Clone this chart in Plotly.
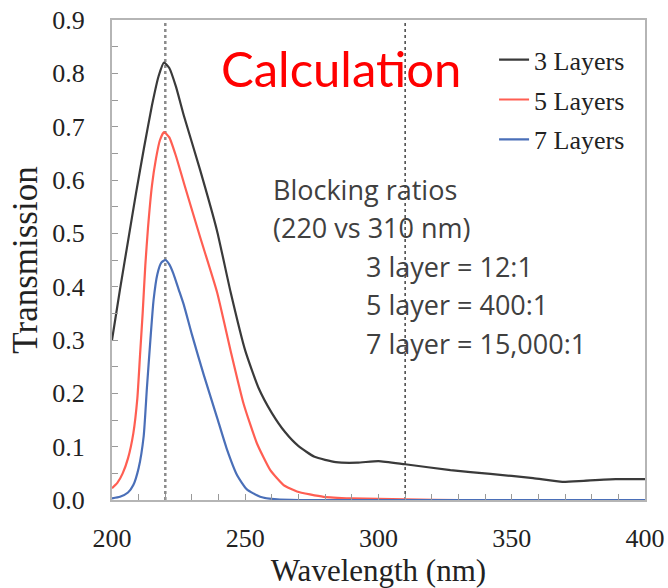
import plotly.graph_objects as go

# ---- data ----
wl_3 = [200, 203, 206, 209, 212, 215, 217.5, 219.5, 221.5, 224, 227, 233, 239.4, 244.5, 250,
        255, 260, 265, 270, 276, 284, 292, 300, 310, 327, 342, 358, 369, 377, 389, 400]
t_3 = [0.30, 0.395, 0.485, 0.575, 0.66, 0.74, 0.795, 0.82, 0.81, 0.775, 0.72, 0.62, 0.505,
       0.39, 0.28, 0.21, 0.163, 0.127, 0.101, 0.081, 0.071, 0.07, 0.073, 0.067, 0.056, 0.049,
       0.041, 0.034, 0.036, 0.039, 0.039]

wl_5 = [200, 202, 204, 206, 208, 209.5, 210.5, 211.5, 212.5, 213.5, 215, 216.5, 218, 219.5,
        221.5, 224, 227, 233, 239.4, 244.5, 249.4, 254.4, 259.4, 264.4, 269.4, 279.4, 290, 300,
        310, 330, 400]
t_5 = [0.022, 0.032, 0.05, 0.078, 0.125, 0.19, 0.27, 0.35, 0.44, 0.51, 0.59, 0.64, 0.675, 0.69,
       0.68, 0.645, 0.594, 0.494, 0.39, 0.28, 0.18, 0.106, 0.056, 0.028, 0.016, 0.006, 0.003,
       0.002, 0.001, 0.0, 0.0]

wl_7 = [200, 203, 206, 208, 210, 211.9, 213.1, 214.4, 215.6, 217, 218.5, 220, 221.5, 223, 225,
        227, 230, 234.4, 239.4, 243, 247, 250.6, 255.6, 262, 270, 400]
t_7 = [0.003, 0.006, 0.014, 0.028, 0.06, 0.12, 0.21, 0.30, 0.375, 0.423, 0.445, 0.45, 0.442,
       0.425, 0.395, 0.365, 0.31, 0.235, 0.155, 0.097, 0.046, 0.02, 0.006, 0.001, 0.0, 0.0]

series_names = ["3 Layers", "5 Layers", "7 Layers"]
series_colors = ["#3a3a3a", "#ff5e52", "#4a6fb8"]
marker_wavelengths = [220, 310]

x_ticks = [200, 250, 300, 350, 400]
y_ticks = [0.0, 0.1, 0.2, 0.3, 0.4, 0.5, 0.6, 0.7, 0.8, 0.9]

note_lines = ["Blocking ratios", "(220 vs 310 nm)", "3 layer = 12:1", "5 layer = 400:1",
              "7 layer = 15,000:1"]

fig = go.Figure()

for i, (wl, t) in enumerate([(wl_3, t_3), (wl_5, t_5), (wl_7, t_7)]):
    fig.add_trace(go.Scatter(
        x=wl, y=t, mode="lines", name=series_names[i],
        line=dict(color=series_colors[i], width=2.2, shape="spline", smoothing=0.5),
        legendgroup=f"g{i}",
    ))

fig.add_vline(x=marker_wavelengths[0], line=dict(color="#8a8a8a", width=2.5, dash="dot"), layer="below")
fig.add_vline(x=marker_wavelengths[1], line=dict(color="#444444", width=1.5, dash="dot"), layer="below")

serif = "Liberation Serif, Times New Roman, serif"
sans = "Open Sans, Noto Sans, sans-serif"

fig.add_annotation(x=240, y=0.81, xref="x", yref="y", text="Calculation", showarrow=False,
                   xanchor="left", yanchor="middle", font=dict(family="Lato, sans-serif", size=49, color="#ff0000"))

note_x = [259.5, 259.5, 294.5, 294.5, 294.5]
note_y = [0.582, 0.511, 0.438, 0.366, 0.294]
for txt, nx, ny in zip(note_lines, note_x, note_y):
    fig.add_annotation(x=nx, y=ny, xref="x", yref="y", text=txt, showarrow=False,
                       xanchor="left", yanchor="middle",
                       font=dict(family=sans, size=27, color="#404040"))

fig.update_layout(
    width=668, height=588,
    margin=dict(l=112, r=23, t=20, b=88, autoexpand=False),
    paper_bgcolor="white", plot_bgcolor="white",
    showlegend=True,
    legend=dict(x=0.972, y=0.966, xanchor="right", yanchor="top",
                font=dict(family=serif, size=26, color="#222222"),
                bgcolor="rgba(0,0,0,0)", itemwidth=30, tracegroupgap=3,
                traceorder="grouped"),
    font=dict(family=serif, color="#222222"),
)

fig.update_xaxes(
    range=[200, 400], tickvals=x_ticks, ticktext=[str(v) for v in x_ticks],
    ticks="inside", ticklen=6, tickwidth=1, tickcolor="#999999",
    minor=dict(dtick=10, ticks="inside", ticklen=6, tickcolor="#999999", showgrid=False),
    showline=True, linecolor="#b5b5b5", linewidth=2, mirror=True,
    showgrid=False, zeroline=False, automargin=False,
    tickfont=dict(family=serif, size=26, color="#222222"),
    ticklabelstandoff=14,
    title=dict(text="Wavelength (nm)", font=dict(family=serif, size=31, color="#222222"), standoff=2),
)
fig.update_yaxes(
    range=[0, 0.9], tickvals=y_ticks, ticktext=[f"{v:.1f}" for v in y_ticks],
    ticks="inside", ticklen=6, tickwidth=1, tickcolor="#999999",
    minor=dict(dtick=0.05, ticks="inside", ticklen=6, tickcolor="#999999", showgrid=False),
    showline=True, linecolor="#b5b5b5", linewidth=2, mirror=True,
    showgrid=False, zeroline=False, automargin=False,
    tickfont=dict(family=serif, size=26, color="#222222"),
    ticklabelstandoff=20,
    title=dict(text="Transmission", font=dict(family=serif, size=35, color="#222222"), standoff=4),
)

fig.write_html("out.html")
